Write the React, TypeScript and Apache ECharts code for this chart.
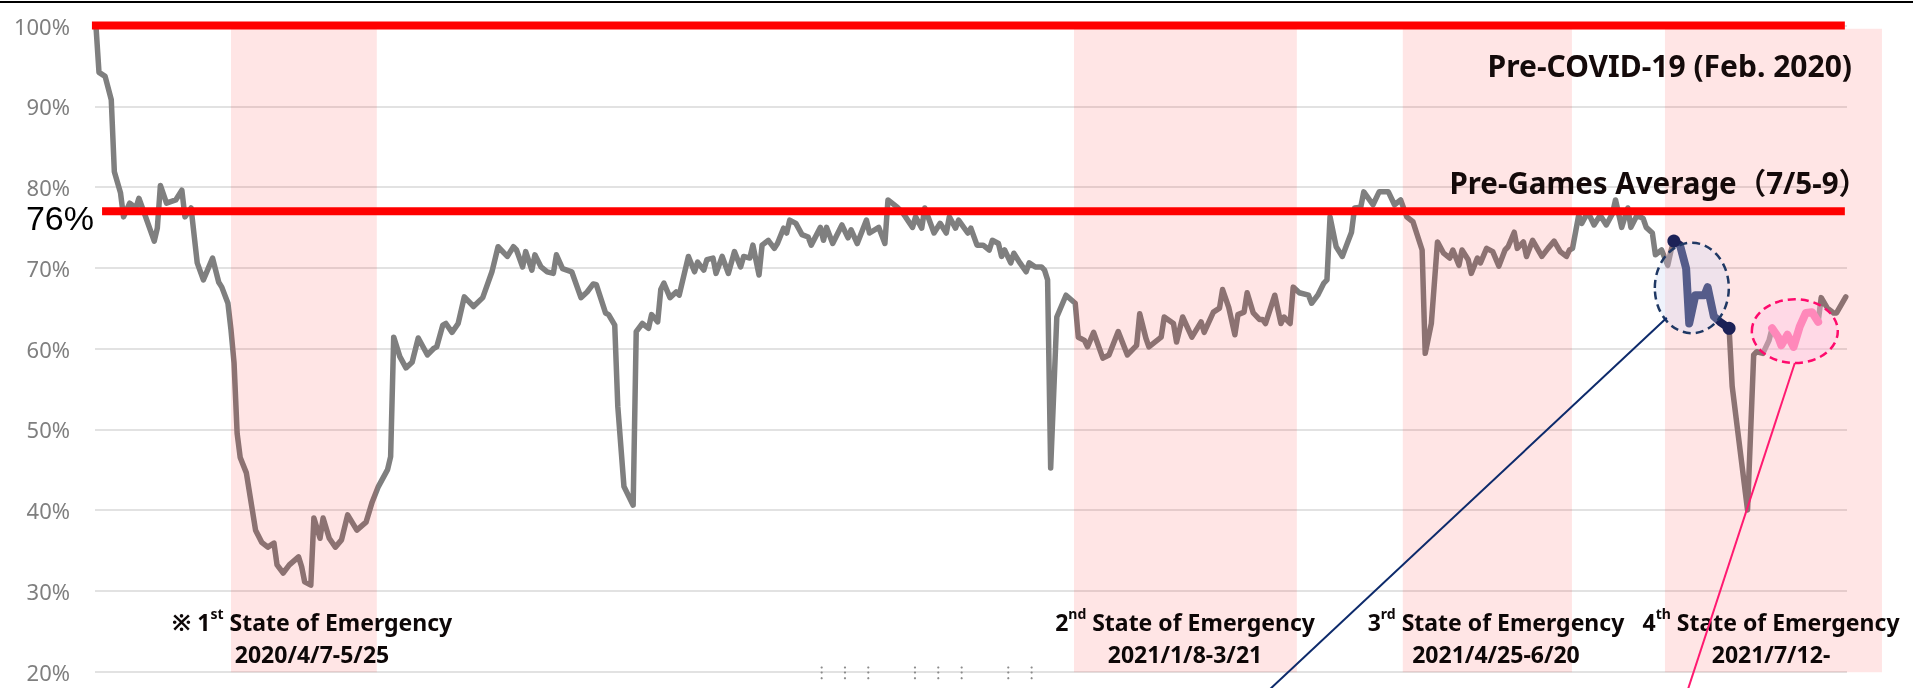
import React, { useEffect, useRef } from 'react';
import * as echarts from 'echarts';

// x: days since 2020-02-23 (Pre-COVID-19 reference, 100%); y: flow rate in %
const flowDay: number[] = [
  0, 1, 3, 5, 6, 8, 9, 11, 13, 14, 16, 19, 20, 21, 23, 26, 28, 29, 31, 33,
  35, 38, 40, 41, 43, 44, 45, 46, 47, 49, 52, 54, 56, 58, 59, 61, 63, 66, 67, 68,
  70, 71, 73, 74, 76, 78, 80, 82, 85, 88, 90, 92, 95, 96, 97, 99, 101, 103, 105, 108,
  110, 111, 113, 114, 116, 118, 120, 123, 126, 129, 131, 134, 136, 137, 139, 140, 142, 143, 145, 147,
  149, 150, 152, 155, 158, 160, 162, 163, 166, 167, 169, 170, 172, 175, 176, 178, 180, 181, 183, 184,
  185, 187, 189, 190, 193, 195, 196, 198, 199, 201, 202, 204, 206, 208, 210, 211, 213, 214, 216, 217,
  219, 221, 222, 224, 225, 226, 228, 230, 232, 233, 236, 237, 238, 240, 243, 245, 246, 248, 251, 252,
  255, 257, 258, 261, 263, 266, 267, 269, 270, 273, 275, 277, 278, 280, 281, 284, 285, 287, 289, 291,
  292, 294, 295, 296, 298, 299, 301, 303, 304, 306, 308, 309, 310, 311, 313, 316, 319, 320, 322, 323,
  325, 328, 330, 333, 336, 339, 340, 342, 343, 347, 348, 351, 352, 354, 357, 360, 361, 364, 366, 367,
  369, 371, 372, 374, 375, 377, 379, 380, 381, 384, 386, 387, 389, 390, 392, 395, 396, 398, 400, 401,
  402, 404, 406, 408, 409, 410, 412, 413, 416, 418, 421, 423, 425, 427, 429, 432, 433, 435, 437, 439,
  441, 442, 444, 445, 447, 448, 450, 451, 453, 455, 457, 459, 460, 462, 463, 465, 466, 468, 471, 473,
  475, 477, 479, 480, 481, 483, 484, 486, 488, 490, 492, 494, 495, 497, 499, 500, 502, 504, 505, 507,
  508, 510, 512, 513, 514, 516, 518, 519, 521, 524, 525, 527, 529, 532, 533, 538, 540, 541, 543, 545,
  546, 548, 549, 551, 553, 555, 557, 559, 561, 562, 564, 566, 567, 570
];
const flowRate: number[] = [
  100.0, 94.2, 93.7, 90.8, 81.9, 79.3, 76.3, 78.0, 77.4, 78.6, 76.5, 73.3, 74.9, 80.2, 78.0, 78.4, 79.6, 76.3, 77.4, 70.6,
  68.5, 71.2, 68.2, 67.6, 65.6, 62.3, 58.2, 49.5, 46.5, 44.6, 37.5, 36.0, 35.4, 35.9, 33.2, 32.2, 33.2, 34.2, 33.0, 31.1,
  30.7, 39.0, 36.5, 39.0, 36.5, 35.4, 36.3, 39.4, 37.5, 38.5, 41.0, 42.9, 45.0, 46.6, 61.4, 59.0, 57.6, 58.3, 61.3, 59.2,
  60.0, 60.2, 62.9, 63.1, 62.0, 63.1, 66.4, 65.2, 66.3, 69.5, 72.6, 71.4, 72.6, 72.2, 70.1, 72.0, 69.7, 71.6, 70.1, 69.5,
  69.3, 71.6, 69.9, 69.5, 66.3, 67.0, 68.0, 67.9, 64.4, 64.2, 62.9, 52.8, 42.9, 40.6, 62.1, 63.1, 62.5, 64.2, 63.3, 67.3,
  68.1, 66.3, 67.0, 66.6, 71.4, 69.5, 70.7, 69.7, 71.0, 71.2, 69.3, 71.4, 69.3, 72.0, 70.1, 71.4, 71.2, 72.8, 69.1, 72.8,
  73.4, 72.4, 73.0, 74.9, 74.3, 75.9, 75.5, 74.1, 73.8, 72.8, 75.0, 73.4, 75.0, 73.0, 75.3, 73.7, 74.7, 73.0, 75.9, 74.3,
  75.0, 73.0, 78.4, 77.5, 76.7, 75.0, 76.3, 74.9, 77.4, 74.3, 75.5, 74.3, 76.3, 74.9, 75.9, 74.3, 74.9, 72.8, 72.8, 72.2,
  73.4, 73.0, 71.4, 72.2, 70.6, 71.8, 70.6, 69.5, 70.6, 70.1, 70.1, 69.7, 68.5, 45.2, 63.9, 66.6, 65.6, 61.4, 61.0, 60.2,
  62.0, 58.8, 59.2, 62.1, 59.2, 60.4, 64.3, 61.3, 60.2, 61.4, 63.9, 63.1, 60.8, 63.9, 61.4, 63.3, 62.0, 64.5, 65.0, 67.3,
  65.1, 61.7, 64.2, 64.5, 66.9, 64.4, 63.6, 63.6, 63.1, 66.6, 63.1, 63.9, 63.1, 67.6, 66.9, 66.6, 65.6, 66.6, 68.1, 68.5,
  76.3, 72.6, 71.4, 73.4, 74.4, 77.4, 77.5, 79.4, 77.8, 79.4, 79.4, 77.8, 78.4, 76.3, 75.7, 72.2, 59.4, 63.1, 73.2, 71.8,
  71.2, 72.2, 70.3, 72.2, 71.0, 69.3, 71.2, 70.6, 72.4, 72.0, 70.2, 72.2, 72.6, 74.4, 72.4, 73.2, 71.4, 73.4, 71.4, 72.4,
  73.3, 72.0, 71.4, 72.2, 72.4, 76.5, 75.5, 76.9, 75.3, 76.5, 75.3, 76.7, 78.4, 75.0, 77.4, 75.0, 76.5, 76.1, 75.0, 74.3,
  71.6, 72.2, 70.3, 72.0, 73.3, 72.8, 69.9, 63.1, 66.6, 66.6, 67.6, 64.0, 63.3, 62.5, 55.3, 40.0, 59.2, 59.6, 59.4, 61.0,
  62.5, 61.4, 60.4, 61.7, 60.2, 62.7, 64.4, 64.5, 63.3, 66.3, 65.0, 64.4, 64.4, 66.4
];

const yMin = 20;
const yMax = 100;
const yStep = 10;

const preCovidLevel = 100;
const preGamesLevel = 77; // height at which the "76%" average line is drawn
const preGamesText = '76%';
const preCovidText = 'Pre-COVID-19 (Feb. 2020)';
const preGamesTitle = 'Pre-Games Average（7/5-9）';

// States of emergency (in days since 2020-02-23)
const emergencyStart = [44, 318.6, 425.7, 511.1];
const emergencyEnd = [91.5, 391.2, 480.8, 581.8];
const emergencyNumber = ['1', '2', '3', '4'];
const emergencySuffix = ['st', 'nd', 'rd', 'th'];
const emergencyPeriod = ['2020/4/7-5/25', '2021/1/8-3/21', '2021/4/25-6/20', '2021/7/12-'];

// highlighted periods (days)
const olympicsRange = [514, 532];
const paralympicsRange = [546, 561];

// small dotted marks along the bottom axis (days)
const dotMarkDays = [236.4, 244, 251.6, 266.8, 274.4, 282, 297.2, 304.8];

// oval callouts in data units: [dayFrom, dayTo, rateLow, rateHigh] and leader [day1, rate1, day2, rate2]
const olympicsOval = [507.8, 531.9, 61.9, 73.1];
const olympicsLeader = [511.7, 63.8, 382.4, 17.8];
const paralympicsOval = [539.4, 567.4, 58.2, 66.1];
const paralympicsLeader = [553.4, 58.2, 518.6, 17.8];

const FONT = '"Noto Sans", "Noto Sans CJK JP", sans-serif';

export default function App() {
  const ref = useRef<HTMLDivElement>(null);

  useEffect(() => {
    if (!ref.current) return;
    const chart = echarts.init(ref.current, null, { renderer: 'svg' });

    const points = flowDay.map((d, i) => [d, flowRate[i]]);
    const inRange = (r: number[]) => points.filter((p) => p[0] >= r[0] && p[0] <= r[1]);
    const oly = inRange(olympicsRange).map((p, i, arr) =>
      i === 0 || i === arr.length - 1 ? { value: p } : { value: p, symbol: 'none' }
    );
    const para = inRange(paralympicsRange);

    const ovalSeries = (oval: number[], stroke: string, fill: string) => ({
      type: 'custom',
      z: 5,
      silent: true,
      clip: false,
      data: [oval],
      encode: { x: 0, y: 2 },
      renderItem: (_p: any, api: any) => {
        const a = api.coord([api.value(0), api.value(3)]);
        const b = api.coord([api.value(1), api.value(2)]);
        return {
          type: 'ellipse',
          shape: { cx: (a[0] + b[0]) / 2, cy: (a[1] + b[1]) / 2, rx: (b[0] - a[0]) / 2, ry: (b[1] - a[1]) / 2 },
          style: { fill, stroke, lineWidth: 2.5, lineDash: [8, 5] },
        };
      },
    });

    const leaderSeries = (leader: number[], stroke: string) => ({
      type: 'custom',
      z: 30,
      silent: true,
      clip: false,
      data: [leader],
      encode: { x: 0, y: 1 },
      renderItem: (_p: any, api: any) => {
        const a = api.coord([api.value(0), api.value(1)]);
        const b = api.coord([api.value(2), api.value(3)]);
        return {
          type: 'line',
          shape: { x1: a[0], y1: a[1], x2: b[0], y2: b[1] },
          style: { stroke, lineWidth: 2 },
        };
      },
    });

    const labelX = [312, 1185, 1496, 1771];

    chart.setOption({
      animation: false,
      grid: { left: 95, right: 66, top: 25.5, bottom: 16.5, containLabel: false, outerBoundsMode: 'none' },
      xAxis: { type: 'value', min: -0.3, max: 570.4, show: false },
      yAxis: {
        type: 'value',
        min: yMin,
        max: yMax,
        interval: yStep,
        axisLine: { show: false },
        axisTick: { show: false },
        splitLine: { lineStyle: { color: '#d9d9d9', width: 1.5 } },
        axisLabel: { formatter: '{value}%', color: '#7f7f7f', fontSize: 22, fontFamily: FONT, margin: 25 },
      },
      series: [
        {
          type: 'line',
          z: 2,
          silent: true,
          data: points,
          symbol: 'none',
          lineStyle: { color: '#7f7f7f', width: 5.5, join: 'round', cap: 'round' },
        },
        {
          type: 'custom',
          z: 3,
          silent: true,
          clip: false,
          data: emergencyStart.map((s, i) => [s, emergencyEnd[i]]),
          encode: { x: 0, y: 1 },
          renderItem: (_p: any, api: any) => {
            const a = api.coord([api.value(0), 99.6]);
            const b = api.coord([api.value(1), 19.9]);
            return {
              type: 'rect',
              shape: { x: a[0], y: a[1], width: b[0] - a[0], height: b[1] - a[1] },
              style: { fill: 'rgba(255,0,0,0.1)' },
            };
          },
        },
        {
          type: 'line',
          z: 4,
          silent: true,
          data: oly,
          symbol: 'circle',
          symbolSize: 13,
          showSymbol: true,
          showAllSymbol: true,
          itemStyle: { color: '#1c2157' },
          lineStyle: { color: '#1c2157', width: 8, join: 'round', cap: 'round' },
        },
        {
          type: 'line',
          z: 4,
          silent: true,
          data: para,
          symbol: 'none',
          lineStyle: { color: '#ff5a9a', width: 8, join: 'round', cap: 'round' },
        },
        ovalSeries(olympicsOval, '#1f3864', 'rgba(205,218,245,0.32)'),
        ovalSeries(paralympicsOval, '#ff0a6c', 'rgba(255,200,230,0.42)'),
        {
          type: 'line',
          z: 6,
          silent: true,
          clip: false,
          symbol: 'none',
          data: [[-1.3, preCovidLevel], [569.7, preCovidLevel]],
          lineStyle: { color: '#ff0000', width: 8, cap: 'butt' },
        },
        {
          type: 'line',
          z: 6,
          silent: true,
          clip: false,
          symbol: 'none',
          data: [[2, preGamesLevel], [569.7, preGamesLevel]],
          lineStyle: { color: '#ff0000', width: 8, cap: 'butt' },
        },
        {
          type: 'custom',
          z: 2,
          silent: true,
          clip: false,
          data: dotMarkDays.map((d) => [d, yMin]),
          encode: { x: 0, y: 1 },
          renderItem: (_p: any, api: any) => {
            const c = api.coord([api.value(0), api.value(1)]);
            return {
              type: 'group',
              children: [-4, 1, 6.7].map((dy) => ({
                type: 'circle',
                shape: { cx: c[0], cy: c[1] + dy, r: 1.1 },
                style: { fill: '#8c8c8c' },
              })),
            };
          },
        },
        leaderSeries(olympicsLeader, '#0d2a6b'),
        leaderSeries(paralympicsLeader, '#ff1a70'),
      ],
      graphic: [
        { type: 'rect', z: 50, silent: true, shape: { x: 0, y: 1, width: 1913, height: 2 }, style: { fill: '#000' } },
        {
          type: 'text',
          z: 20,
          silent: true,
          x: 94,
          y: 218,
          style: {
            text: preGamesText,
            fontSize: 34,
            lineHeight: 26,
            fontFamily: '"Liberation Sans", Arial, sans-serif',
            fill: '#000',
            align: 'right',
            verticalAlign: 'middle',
          },
        },
        {
          type: 'text',
          z: 20,
          silent: true,
          x: 1852,
          y: 65,
          style: { text: preCovidText, fontSize: 30, fontWeight: 'bold', fontFamily: FONT, fill: '#140a0a', align: 'right', verticalAlign: 'middle' },
        },
        {
          type: 'text',
          z: 20,
          silent: true,
          x: 1868,
          y: 182,
          style: { text: preGamesTitle, fontSize: 29.5, fontWeight: 'bold', fontFamily: FONT, fill: '#140a0a', align: 'right', verticalAlign: 'middle' },
        },
        ...emergencyNumber.map((n, i) => ({
          type: 'text',
          z: 20,
          silent: true,
          x: labelX[i],
          y: 638,
          style: {
            text: `${i === 0 ? '※ ' : ''}${n}{sup|${emergencySuffix[i]}} State of Emergency\n${emergencyPeriod[i]}`,
            fontSize: 23,
            fontWeight: 'bold',
            fontFamily: FONT,
            fill: '#0d0707',
            align: 'center',
            verticalAlign: 'middle',
            lineHeight: 32,
            rich: {
              sup: { fontSize: 14, fontWeight: 'bold', fontFamily: FONT, fill: '#0d0707', verticalAlign: 'top', lineHeight: 22 },
            },
          },
        })),
      ],
    });

    return () => chart.dispose();
  }, []);

  return <div ref={ref} style={{ position: 'fixed', left: 0, top: 0, width: 1913, height: 688 }} />;
}
